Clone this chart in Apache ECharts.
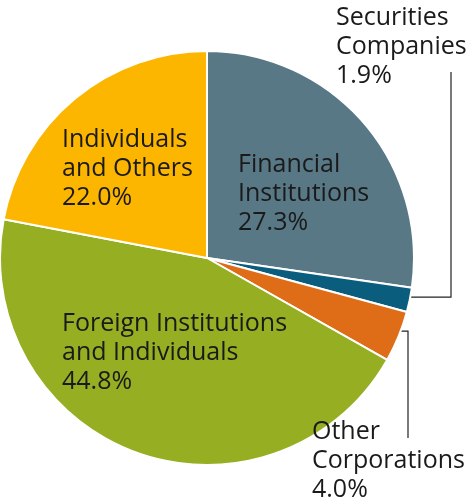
<!DOCTYPE html>
<meta charset="utf-8">
<title>Shareholders</title>
<style>
  html, body { margin: 0; padding: 0; background: #fff; }
  #main { width: 472px; height: 500px; }
</style>
<body>
<div id="main"></div>
<script src="https://cdn.jsdelivr.net/npm/echarts@6/dist/echarts.min.js"></script>
<script>
// data, clockwise from 12 o'clock
var categories = [
  'Financial\nInstitutions',
  'Securities\nCompanies',
  'Other\nCorporations',
  'Foreign Institutions\nand Individuals',
  'Individuals\nand Others'
];
var shares = [27.3, 1.9, 4.0, 44.8, 22.0];
var colors = ['#587886', '#0b5d7e', '#df6c17', '#95ae22', '#fcb600'];

// label placement (top-left of each text block), leader lines for the thin slices
var labelPos = [[238, 150], [336, 3], [312, 417], [62, 309], [62, 125]];
var leader = [null, { x: 451, endY: 72 }, { x: 408, endY: 438 }, null, null];

var cx = 207, cy = 258, R = 207;

var total = shares.reduce(function (a, b) { return a + b; }, 0);
function anchor(i, k) {
  var before = 0;
  for (var j = 0; j < i; j++) before += shares[j];
  var mid = (before + shares[i] / 2) / total * 2 * Math.PI;
  // angle from 12 o'clock, clockwise
  return [cx + Math.sin(mid) * R * k, cy - Math.cos(mid) * R * k];
}

var myChart = echarts.init(document.getElementById('main'));

var option = {
  animation: false,
  series: [{
    type: 'pie',
    center: [cx, cy],
    radius: R,
    startAngle: 90,
    clockwise: true,
    silent: true,
    itemStyle: { borderColor: '#fff', borderWidth: 2 },
    label: {
      color: '#1a1a1a',
      fontFamily: 'Open Sans',
      fontSize: 25,
      lineHeight: 29,
      overflow: 'none',
      formatter: function (p) { return p.name + '\n' + p.value.toFixed(1) + '%'; }
    },
    labelLine: { showAbove: true, lineStyle: { color: '#222', width: 1.2 } },
    labelLayout: function (params) {
      var i = params.dataIndex;
      var res = { x: labelPos[i][0], y: labelPos[i][1], align: 'left', verticalAlign: 'top' };
      if (leader[i]) {
        var a = anchor(i, 0.93);
        res.labelLinePoints = [a, [leader[i].x, a[1]], [leader[i].x, leader[i].endY]];
      }
      return res;
    },
    data: categories.map(function (name, i) {
      return {
        name: name,
        value: shares[i],
        itemStyle: { color: colors[i] },
        label: { position: leader[i] ? 'outside' : 'inside' },
        labelLine: { show: !!leader[i], showAbove: true, length: 10, length2: 10 }
      };
    })
  }]
};

myChart.setOption(option);
</script>
</body>
